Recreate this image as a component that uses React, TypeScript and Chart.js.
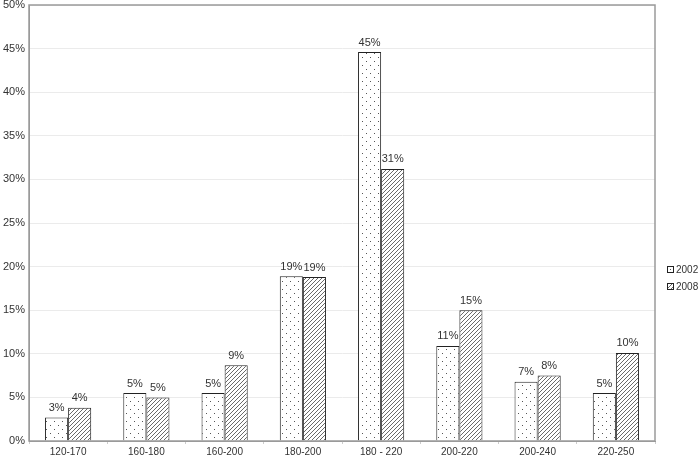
import React, { useEffect, useRef } from "react";
import { Chart, registerables } from "chart.js";

Chart.register(...registerables);

const categories = ["120-170", "160-180", "160-200", "180-200", "180 - 220", "200-220", "200-240", "220-250"];
const series2002 = [2.7, 5.5, 5.5, 18.9, 44.6, 10.9, 6.8, 5.5];
const series2008 = [3.8, 5.0, 8.7, 18.8, 31.2, 15.0, 7.5, 10.1];
const labels2002 = ["3%", "5%", "5%", "19%", "45%", "11%", "7%", "5%"];
const labels2008 = ["4%", "5%", "9%", "19%", "31%", "15%", "8%", "10%"];
const seriesNames = ["2002", "2008"];

const FONT = "'Liberation Sans', Arial, sans-serif";

function dotPattern(ctx: CanvasRenderingContext2D): CanvasPattern | string {
  const c = document.createElement("canvas");
  c.width = 8;
  c.height = 8;
  const g = c.getContext("2d")!;
  g.fillStyle = "#ffffff";
  g.fillRect(0, 0, 8, 8);
  g.fillStyle = "#555555";
  g.fillRect(2, 1, 1, 1);
  g.fillRect(6, 5, 1, 1);
  return ctx.createPattern(c, "repeat") || "#fff";
}

function hatchPattern(ctx: CanvasRenderingContext2D): CanvasPattern | string {
  const c = document.createElement("canvas");
  c.width = 4;
  c.height = 4;
  const g = c.getContext("2d")!;
  g.fillStyle = "#ffffff";
  g.fillRect(0, 0, 4, 4);
  g.strokeStyle = "#6a6a6a";
  g.lineWidth = 1;
  g.beginPath();
  g.moveTo(-1, 5);
  g.lineTo(5, -1);
  g.moveTo(-1, 1);
  g.lineTo(1, -1);
  g.moveTo(3, 5);
  g.lineTo(5, 3);
  g.stroke();
  return ctx.createPattern(c, "repeat") || "#888";
}

export default function App() {
  const ref = useRef<HTMLCanvasElement | null>(null);

  useEffect(() => {
    document.body.style.margin = "0";
    const canvas = ref.current!;
    const ctx = canvas.getContext("2d")!;
    const p1 = dotPattern(ctx);
    const p2 = hatchPattern(ctx);
    const valueLabels = [labels2002, labels2008];

    const labelPlugin = {
      id: "valueLabels",
      afterDatasetsDraw(chart: any) {
        const c = chart.ctx;
        c.save();
        c.font = `11px ${FONT}`;
        c.fillStyle = "#333";
        c.textAlign = "center";
        c.textBaseline = "bottom";
        chart.data.datasets.forEach((_: any, di: number) => {
          const meta = chart.getDatasetMeta(di);
          meta.data.forEach((el: any, i: number) => {
            c.fillText(valueLabels[di][i], el.x, el.y - 4);
          });
        });
        c.restore();
      },
    };

    const borderPlugin = {
      id: "plotBorder",
      afterDraw(chart: any) {
        const c = chart.ctx;
        const a = chart.chartArea;
        c.save();
        c.strokeStyle = "#9a9a9a";
        c.lineWidth = 1.5;
        c.strokeRect(a.left, a.top, a.right - a.left, a.bottom - a.top);
        const fills = [p1, p2];
        c.font = `10px ${FONT}`;
        c.textBaseline = "middle";
        c.textAlign = "left";
        seriesNames.forEach((n, i) => {
          const y = 270 + i * 17;
          const x = a.right + 12;
          c.fillStyle = fills[i] as any;
          c.fillRect(x, y - 4, 7, 7);
          c.strokeStyle = "#222";
          c.lineWidth = 1;
          c.strokeRect(x + 0.5, y - 3.5, 6, 6);
          c.fillStyle = "#333";
          c.fillText(n, x + 9, y);
        });
        c.restore();
      },
    };

    const chart = new Chart(canvas, {
      type: "bar",
      data: {
        labels: categories,
        datasets: [
          {
            label: seriesNames[0],
            data: series2002,
            backgroundColor: p1 as any,
            borderColor: "#222",
            borderWidth: 1,
            barPercentage: 1,
            categoryPercentage: 0.59,
          },
          {
            label: seriesNames[1],
            data: series2008,
            backgroundColor: p2 as any,
            borderColor: "#222",
            borderWidth: 1,
            barPercentage: 1,
            categoryPercentage: 0.59,
          },
        ],
      },
      options: {
        responsive: false,
        animation: false,
        events: [],
        layout: { padding: { top: 5, right: 45, left: 0, bottom: 0 } },
        plugins: {
          legend: { display: false },
          tooltip: { enabled: false },
        },
        scales: {
          x: {
            grid: { display: true, drawOnChartArea: false, tickLength: 3, color: "#cccccc", offset: true },
            border: { color: "#9a9a9a" },
            ticks: { color: "#333", font: { size: 10, family: FONT }, padding: 2, maxRotation: 0 },
            afterFit: (s: any) => {
              s.height = 20;
            },
          },
          y: {
            min: 0,
            max: 50,
            ticks: {
              stepSize: 5,
              color: "#333",
              font: { size: 11, family: FONT },
              padding: 4,
              callback: (v: any) => v + "%",
            },
            grid: { color: "#ebebeb", drawTicks: false },
            border: { color: "#9a9a9a" },
            afterFit: (s: any) => {
              s.width = 29;
              s.paddingTop = 0;
              s.paddingBottom = 0;
            },
          },
        },
      },
      plugins: [labelPlugin, borderPlugin],
    });
    return () => chart.destroy();
  }, []);

  return <canvas ref={ref} width={700} height={461} style={{ display: "block" }} />;
}
